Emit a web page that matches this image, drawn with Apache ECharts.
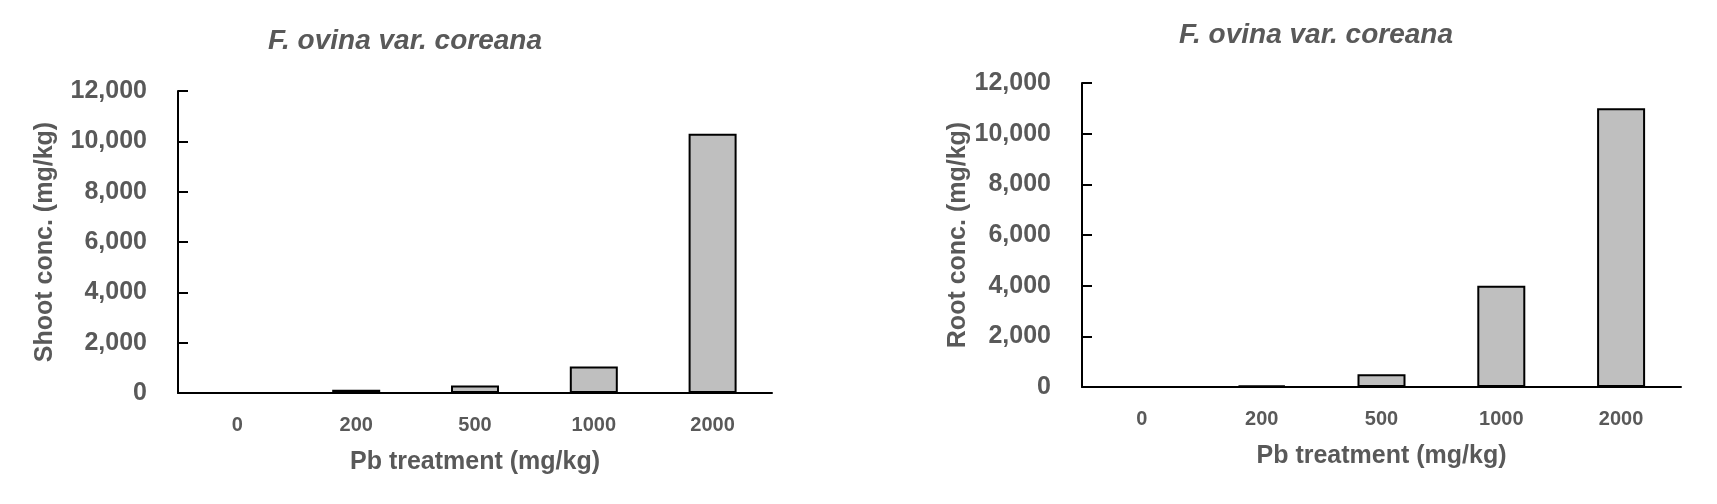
<!DOCTYPE html>
<html><head><meta charset="utf-8">
<script src="https://cdn.jsdelivr.net/npm/echarts@6/dist/echarts.min.js"></script>
<style>html,body{margin:0;padding:0;background:#fff}#c{width:1717px;height:504px}</style>
</head><body><div id="c"></div>
<script>
const categories = ['0', '200', '500', '1000', '2000'];
const shootValues = [0, 130, 300, 1050, 10300];
const rootValues = [0, 60, 500, 4000, 11000];
const yMin = 0, yMax = 12000, yStep = 2000;
const chartTitle = 'F. ovina var. coreana';
const xAxisTitle = 'Pb treatment (mg/kg)';
const shootAxisTitle = 'Shoot conc. (mg/kg)';
const rootAxisTitle = 'Root conc. (mg/kg)';

const FONT = "'Liberation Sans', Arial, sans-serif";
const GREY = '#595959';

function xAxisCfg(gi) {
  return {
    type: 'category', gridIndex: gi, data: categories,
    axisLine: { lineStyle: { color: '#000', width: 2 } },
    axisTick: { inside: true, length: 9, lineStyle: { color: '#000', width: 2 } },
    axisLabel: { margin: 22, color: GREY, fontSize: 20, fontWeight: 'bold', fontFamily: FONT },
    name: xAxisTitle, nameLocation: 'middle', nameGap: 57,
    nameTextStyle: { color: GREY, fontSize: 25, fontWeight: 'bold', fontFamily: FONT }
  };
}
function yAxisCfg(gi, name, gap) {
  return {
    type: 'value', gridIndex: gi, min: yMin, max: yMax, interval: yStep,
    splitLine: { show: false },
    axisLine: { show: true, lineStyle: { color: '#000', width: 2 } },
    axisTick: { show: true, inside: true, length: 10, lineStyle: { color: '#000', width: 2 } },
    axisLabel: { margin: 31, color: GREY, fontSize: 25, fontWeight: 'bold', fontFamily: FONT,
      formatter: v => v.toLocaleString('en-US') },
    name: name, nameLocation: 'middle', nameGap: gap, nameRotate: 90,
    nameTextStyle: { color: GREY, fontSize: 25, fontWeight: 'bold', fontFamily: FONT }
  };
}
function barSeries(i, data) {
  return {
    type: 'bar', xAxisIndex: i, yAxisIndex: i, data: data, barWidth: 48,
    itemStyle: { color: '#bfbfbf', borderColor: '#000', borderWidth: 2 },
    animation: false
  };
}

const chart = echarts.init(document.getElementById('c'));
chart.setOption({
  animation: false,
  backgroundColor: '#fff',
  grid: [
    { left: 178, top: 91, width: 594, height: 302 },
    { left: 1082, top: 83, width: 599, height: 304 }
  ],
  xAxis: [xAxisCfg(0), xAxisCfg(1)],
  yAxis: [yAxisCfg(0, shootAxisTitle, 120), yAxisCfg(1, rootAxisTitle, 108)],
  series: [barSeries(0, shootValues), barSeries(1, rootValues)],
  graphic: [
    { type: 'text', x: 405, y: 41, style: { text: chartTitle, align: 'center', verticalAlign: 'middle',
      fill: GREY, fontSize: 28, fontWeight: 'bold', fontStyle: 'italic', fontFamily: FONT } },
    { type: 'text', x: 1316, y: 35, style: { text: chartTitle, align: 'center', verticalAlign: 'middle',
      fill: GREY, fontSize: 28, fontWeight: 'bold', fontStyle: 'italic', fontFamily: FONT } }
  ]
});
</script>
</body></html>
